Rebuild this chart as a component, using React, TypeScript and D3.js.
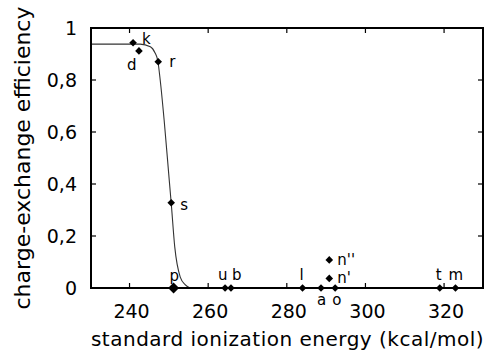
import React from "react";
import * as d3 from "d3";

const pointNames = ["k", "d", "r", "s", "p", "u", "b", "l", "a", "o", "n''", "n'", "t", "m"];
const pointEnergy = [240.9, 242.4, 247.3, 250.6, 251.2, 264.3, 265.8, 284.0, 288.7, 292.3, 290.8, 290.8, 318.9, 322.9];
const pointEfficiency = [0.943, 0.912, 0.87, 0.328, 0, 0, 0, 0, 0, 0, 0.108, 0.037, 0, 0];
// label placement: dx, dy relative to point (px)
const labelDx = [9, -12, 11, 9, -4, -7, 1, -3, -4, -3, 8, 8, -4, -7];
const labelDy = [1, 19, 5, 7, -7, -8, -8, -8, 17, 17, 5, 5, -8, -8];
const bigPoint = [false, false, false, false, true, false, false, false, false, false, false, false, false, false];

const curveEnergy = [230.25, 242.7, 245.3, 246.5, 247.2, 247.8, 248.8, 250.1, 250.6, 251.5, 252.9, 254.2, 255.4];
const curveEfficiency = [0.938, 0.938, 0.928, 0.904, 0.873, 0.8, 0.646, 0.415, 0.327, 0.158, 0.042, 0.012, 0.0];

const xTicks = [240, 260, 280, 300, 320];
const yTicks = [0, 0.2, 0.4, 0.6, 0.8, 1];
const yTickLabels = ["0", "0,2", "0,4", "0,6", "0,8", "1"];

export default function App() {
  const W = 491, H = 351;
  const L = 91, R = 483, T = 28, B = 288;
  const x = d3.scaleLinear().domain([230.2, 329.9]).range([L, R]);
  const y = d3.scaleLinear().domain([0, 1]).range([B, T]);
  const line = d3
    .line<number>()
    .x((_, i) => x(curveEnergy[i]))
    .y((_, i) => y(curveEfficiency[i]))
    .curve(d3.curveMonotoneX);
  const font = "DejaVu Sans, sans-serif";
  const diamond = (cx: number, cy: number, r: number) =>
    `M${cx},${cy - r}L${cx + r},${cy}L${cx},${cy + r}L${cx - r},${cy}Z`;
  const tl = 5;
  return (
    <svg width={W} height={H} style={{ position: "absolute", left: 0, top: 0, background: "#fff" }}>
      <rect x={0} y={0} width={W} height={H} fill="#fff" />
      {/* curve */}
      <path d={line(curveEnergy) || ""} fill="none" stroke="#333" strokeWidth={1.1} />
      {/* frame */}
      <rect x={L} y={T} width={R - L} height={B - T} fill="none" stroke="#000" strokeWidth={2} />
      {xTicks.map((t) => (
        <g key={"x" + t}>
          <line x1={x(t)} x2={x(t)} y1={B} y2={B - tl} stroke="#000" strokeWidth={1.2} />
          <line x1={x(t)} x2={x(t)} y1={T} y2={T + tl} stroke="#000" strokeWidth={1.2} />
          <text x={x(t) + 2} y={318} textAnchor="middle" fontFamily={font} fontSize={19} fill="#000">
            {t}
          </text>
        </g>
      ))}
      {yTicks.map((t, i) => (
        <g key={"y" + t}>
          <line x1={L} x2={L + tl} y1={y(t)} y2={y(t)} stroke="#000" strokeWidth={1.2} />
          <line x1={R} x2={R - tl} y1={y(t)} y2={y(t)} stroke="#000" strokeWidth={1.2} />
          <text x={77} y={y(t) + 7} textAnchor="end" fontFamily={font} fontSize={19} fill="#000">
            {yTickLabels[i]}
          </text>
        </g>
      ))}
      {/* points */}
      {pointNames.map((n, i) => {
        const cx = x(pointEnergy[i]);
        const cy = y(pointEfficiency[i]);
        return (
          <g key={n + i}>
            <path d={diamond(cx, cy, bigPoint[i] ? 5.5 : 3.8)} fill="#000" />
            <text x={cx + labelDx[i]} y={cy + labelDy[i]} fontFamily={font} fontSize={15} fill="#000">
              {n}
            </text>
          </g>
        );
      })}
      {/* axis titles */}
      <text x={287.5} y={346} textAnchor="middle" fontFamily={font} fontSize={20} letterSpacing={0.5} fill="#000">
        standard ionization energy (kcal/mol)
      </text>
      <text
        transform={`translate(30,158) rotate(-90)`}
        textAnchor="middle"
        fontFamily={font}
        fontSize={22}
        fill="#000"
      >
        charge-exchange efficiency
      </text>
    </svg>
  );
}
